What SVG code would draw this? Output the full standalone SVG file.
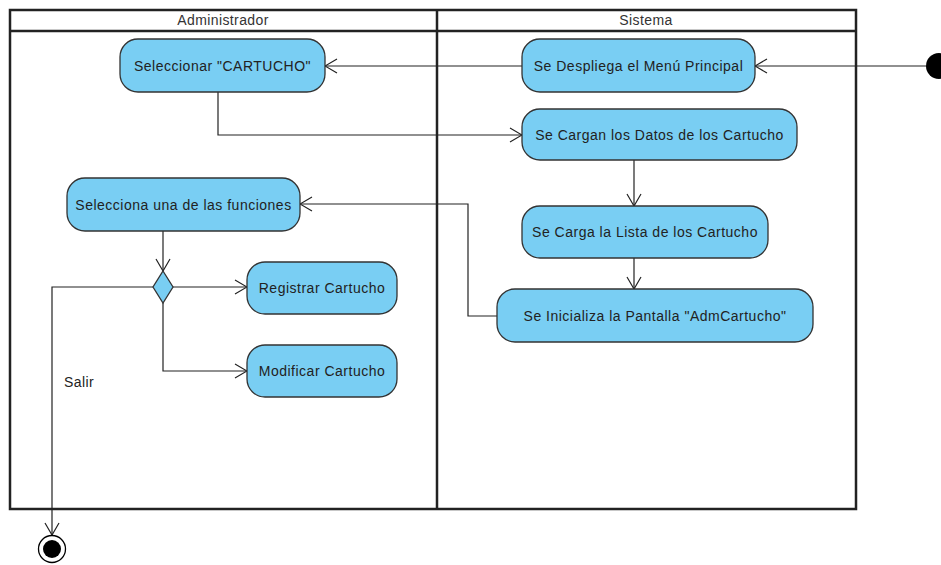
<svg xmlns="http://www.w3.org/2000/svg" width="941" height="565" viewBox="0 0 941 565">
<defs>
<marker id="arr" markerWidth="14" markerHeight="16" refX="13" refY="8" orient="auto" markerUnits="userSpaceOnUse">
<path d="M1,1 L13,8 L1,15" fill="none" stroke="#222" stroke-width="1.2"/>
</marker>
<style>
.lane{fill:none;stroke:#222;stroke-width:2.5}
.act{fill:#79CEF3;stroke:#333;stroke-width:1.3}
.t{font-family:"Liberation Sans",Arial,sans-serif;font-size:14px;letter-spacing:0.5px;fill:#222;text-anchor:middle;dominant-baseline:central}
.hd{font-family:"Liberation Sans",Arial,sans-serif;font-size:14px;letter-spacing:0.4px;fill:#333;text-anchor:middle;dominant-baseline:central}
.c{fill:none;stroke:#222;stroke-width:1.2;marker-end:url(#arr)}
</style>
</defs>
<rect width="941" height="565" fill="#fff"/>
<g id="swimlanes">
<rect class="lane" x="10" y="10" width="846" height="499"/>
<line class="lane" x1="10" y1="31" x2="856" y2="31"/>
<line class="lane" x1="437" y1="10" x2="437" y2="509"/>
<text class="hd" x="223" y="20">Administrador</text>
<text class="hd" x="646" y="20">Sistema</text>
</g>
<g id="connectors">
<line class="c" x1="926" y1="66" x2="755" y2="66"/>
<line class="c" x1="522" y1="66" x2="325" y2="66"/>
<polyline class="c" points="218,92 218,135 522,135"/>
<line class="c" x1="634" y1="160" x2="634" y2="206"/>
<line class="c" x1="634" y1="258" x2="634" y2="289"/>
<polyline class="c" points="497,316 468,316 468,204 300,204"/>
<line class="c" x1="163" y1="231" x2="163" y2="271"/>
<line class="c" x1="173" y1="287" x2="247" y2="287"/>
<polyline class="c" points="163,303 163,371 247,371"/>
<polyline class="c" points="153,287 52,287 52,535"/>
<text x="64" y="382" style="font-family:'Liberation Sans',Arial,sans-serif;font-size:14px;letter-spacing:0.4px;fill:#222;dominant-baseline:central">Salir</text>
</g>
<g id="start"><circle cx="939" cy="66" r="13" fill="#000"/></g>
<g id="n1"><rect class="act" x="120" y="39" width="205" height="53" rx="18"/><text class="t" x="222.5" y="65.5">Seleccionar "CARTUCHO"</text></g>
<g id="n2"><rect class="act" x="522" y="39" width="233" height="53" rx="18"/><text class="t" x="638.5" y="65.5">Se Despliega el Menú Principal</text></g>
<g id="n3"><rect class="act" x="522" y="109" width="275" height="51" rx="18"/><text class="t" x="659.5" y="134.5">Se Cargan los Datos de los Cartucho</text></g>
<g id="n4"><rect class="act" x="522" y="206" width="246" height="52" rx="18"/><text class="t" x="645" y="232">Se Carga la Lista de los Cartucho</text></g>
<g id="n5"><rect class="act" x="497" y="289" width="316" height="53" rx="18"/><text class="t" x="655" y="315.5">Se Inicializa la Pantalla "AdmCartucho"</text></g>
<g id="n6"><rect class="act" x="67" y="178" width="233" height="53" rx="18"/><text class="t" x="183.5" y="204.5">Selecciona una de las funciones</text></g>
<g id="decision"><polygon class="act" points="163,271 173,287 163,303 153,287"/></g>
<g id="n7"><rect class="act" x="247" y="262" width="150" height="52" rx="18"/><text class="t" x="322" y="288">Registrar Cartucho</text></g>
<g id="n8"><rect class="act" x="247" y="345" width="150" height="52" rx="18"/><text class="t" x="322" y="371">Modificar Cartucho</text></g>
<g id="final"><circle cx="52" cy="549" r="13.5" fill="#fff" stroke="#000" stroke-width="1.3"/><circle cx="52" cy="549" r="9" fill="#000"/></g>
</svg>
